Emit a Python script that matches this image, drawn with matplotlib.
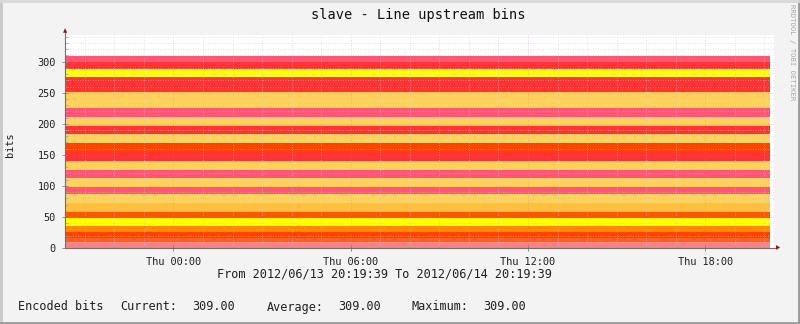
import matplotlib
matplotlib.use('Agg')
import matplotlib.pyplot as plt
import matplotlib.dates as mdates
from matplotlib.lines import Line2D
import numpy as np
from datetime import datetime

# ---------- data (bits per band, bottom to top)

band_bits = [9, 7, 9, 11, 12, 10, 14, 15, 12, 14, 12, 15, 15, 14, 15, 13, 14, 15, 13, 13, 24, 13, 11, 9]
band_colors = ['#FF8080', '#FF6020', '#FF4400', '#FF8800', '#FFFF00', '#FF5500', '#FFC040', '#FFD35A',
               '#FF5577', '#FFD35A', '#FF5577', '#FFD35A', '#FF3333', '#FF4400', '#FFD35A', '#FF3333',
               '#FFD35A', '#FF5577', '#FFD35A', '#FFD060', '#FF3333', '#FFFF00', '#FF3333', '#FF5577']
t_start = datetime(2012, 6, 13, 20, 19, 39)
t_end = datetime(2012, 6, 14, 20, 19, 39)
t_last = datetime(2012, 6, 14, 20, 11, 0)
title = 'slave - Line upstream bins'
ylabel = 'bits'
period = 'From 2012/06/13 20:19:39 To 2012/06/14 20:19:39'
legend_parts = ['Encoded bits', 'Current:', '309.00', 'Average:', '309.00', 'Maximum:', '309.00']

BG = '#F3F3F3'
mono = 'DejaVu Sans Mono'

fig = plt.figure(figsize=(8, 3.24), dpi=100)
fig.patch.set_facecolor(BG)

W, H = 800.0, 324.0
x0, x1, ytop, ybot = 65, 774, 35, 248
ax = fig.add_axes([x0 / W, 1 - ybot / H, (x1 - x0) / W, (ybot - ytop) / H])
ax.set_facecolor('white')

times = [t_start, t_last]
vals = [np.full(2, b) for b in band_bits]
ax.stackplot(times, vals, colors=band_colors, linewidth=0, zorder=1)

ax.set_xlim(t_start, t_end)
ax.set_ylim(0, 343)

ax.xaxis.set_major_locator(mdates.HourLocator(byhour=[0, 6, 12, 18]))
ax.xaxis.set_minor_locator(mdates.HourLocator())
ax.xaxis.set_major_formatter(mdates.DateFormatter('%a %H:%M'))
ax.yaxis.set_major_locator(plt.MultipleLocator(50))
ax.yaxis.set_minor_locator(plt.MultipleLocator(10))

ax.grid(which='minor', color='#C8C8C8', linestyle=(0, (1, 2)), linewidth=0.6, alpha=0.7, zorder=3)
ax.grid(which='major', color='#FF6060', linestyle=(0, (1, 2)), linewidth=0.6, alpha=0.45, zorder=3)
ax.set_axisbelow(False)

for s in ax.spines.values():
    s.set_visible(False)

ax.tick_params(which='major', direction='inout', length=5, width=0.6, color='#808080',
               labelsize=7.4, pad=4)
ax.tick_params(which='minor', direction='in', length=2, width=0.5, color='#A0A0A0')
for lab in ax.get_xticklabels() + ax.get_yticklabels():
    lab.set_family(mono)
    lab.set_color('#202020')

# axes with arrows
fig.add_artist(Line2D([x0 / W, 777 / W], [1 - ybot / H, 1 - ybot / H], color='#707070', lw=0.8))
fig.add_artist(Line2D([x0 / W, x0 / W], [1 - ybot / H, 1 - 32 / H], color='#707070', lw=0.8))
fig.text(778 / W, 1 - ybot / H, '\u25B6', color='#8B1A1A', fontsize=4, ha='center', va='center')
fig.text(x0 / W, 1 - 31 / H, '\u25B2', color='#8B1A1A', fontsize=4, ha='center', va='center')

# texts
fig.text(418 / W, 1 - 15 / H, title, ha='center', va='center', family=mono, fontsize=9.8,
         color='#101010', weight='medium')
fig.text(10 / W, 1 - 145 / H, ylabel, rotation=90, ha='center', va='center', family=mono,
         fontsize=7.4, color='#202020')
fig.text(384 / W, 1 - 274 / H, period, ha='center', va='center', family=mono, fontsize=8.6,
         color='#202020')
legend_x = [18, 120, 192, 267, 338, 411, 483]
for px, s in zip(legend_x, legend_parts):
    fig.text(px / W, 1 - 307 / H, s, ha='left', va='center', family=mono, fontsize=8.5, color='#202020')
fig.text(792 / W, 1 - 52 / H, 'RRDTOOL / TOBI OETIKER', rotation=270, ha='center', va='center',
         family=mono, fontsize=5.2, color='#A8A8A8')

# frame shading
fig.add_artist(Line2D([1 / W, 1 / W], [0, 1], color='#C8C8C8', lw=2))
fig.add_artist(Line2D([0, 1], [1 / H, 1 / H], color='#9A9A9A', lw=2))
fig.add_artist(Line2D([799 / W, 799 / W], [0, 1], color='#9A9A9A', lw=2))
fig.add_artist(Line2D([0, 1], [323 / H, 323 / H], color='#D8D8D8', lw=2))

fig.savefig('out.png', dpi=100, facecolor=BG)
